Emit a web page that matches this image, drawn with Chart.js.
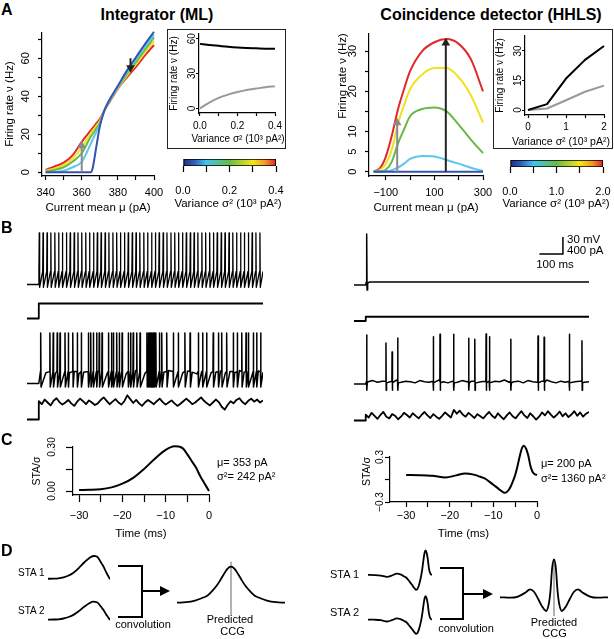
<!DOCTYPE html>
<html>
<head>
<meta charset="utf-8">
<script src="https://cdn.jsdelivr.net/npm/chart.js@4.4.1/dist/chart.umd.min.js"></script>
<style>
  html, body { margin: 0; padding: 0; background: #fff; overflow: hidden; }
  #fig { position: relative; width: 614px; height: 639px; overflow: hidden;
         font-family: 'Liberation Sans', Arial, Helvetica, sans-serif; color: #000; }
  #fig canvas { position: absolute; }
  .t { position: absolute; white-space: nowrap; line-height: 1; }
  .box { position: absolute; border: 1.5px solid #222; box-sizing: border-box; }
  .k { position: absolute; background: #000; }
</style>
</head>
<body>
<div id="fig"></div>
<script>
// fig 1 - integrator (ML) vs coincidence detector (HHLS)

// ---- panel A: firing rate vs mean current, one curve per noise variance ----
const sigmaColors = ['#3553b3', '#5bc7ec', '#69b845', '#efe31f', '#e3262a'];
const colorbarStops = [0, 0.12, 0.25, 0.5, 0.75, 0.88, 1];
const colorbarColors = ['#262a86', '#2f5fb6', '#44c3ee', '#68bb46', '#f3e61d', '#f29a27', '#e1222a'];

const mlCurrent = [340, 345, 350, 355, 360, 365, 366, 368, 370, 372.5, 375, 380, 385, 390, 395, 400];
const mlRateVar0 = [0, 0, 0, 0, 0, 0, 2, 13, 24, 32.5, 37.5, 45.5, 53.5, 60.5, 67.5, 74];
const mlRateVar1 = [0, 0.1, 0.8, 2.6, 5.5, 15, 17, 21, 25, 32.4, 37.2, 45, 52.6, 59.3, 66, 72.5];
const mlRateVar2 = [0.3, 1.2, 2.6, 5.6, 10, 18.7, 20, 23, 26, 32.3, 37, 44.6, 51.8, 58, 64.5, 71];
const mlRateVar3 = [0.8, 2, 3.8, 7.3, 13, 20.5, 21.8, 24.3, 27, 32.4, 36.7, 44.3, 50.9, 56.8, 63, 69];
const mlRateVar4 = [1.2, 3, 5, 9, 16, 22, 23.2, 25.6, 28, 32.5, 36.3, 44, 50, 55.5, 61.5, 67];
const mlArrowUp = [360, 0, 14];     // current, start rate, head rate
const mlArrowDown = [387, 60, 55];

const mlVariance = [0, 0.05, 0.1, 0.15, 0.2, 0.25, 0.3, 0.35, 0.4];
const mlRateAt360 = [0, 5, 9, 11.8, 14, 15.8, 17, 18.2, 19];
const mlRateAt387 = [55.5, 54.6, 53.8, 53, 52.4, 52, 51.7, 51.4, 51.2];

const hhCurrent = [-150, -125, -100, -75, -50, -25, 0, 50, 100, 150, 200, 250, 300];
const hhRateVar0 = [0, 0, 0, 0, 0, 0, 0, 0, 0, 0, 0, 0, 0];
const hhRateVar1 = [0, 0, 0.1, 0.4, 1.0, 2.0, 3.2, 3.9, 3.8, 2.9, 2.0, 1.0, 0.2];
const hhRateVar2 = [0, 0.1, 0.5, 2.5, 7, 10.5, 13.8, 15.6, 16, 15, 11.7, 8, 4.6];
const hhRateVar3 = [0, 0.4, 2, 5.5, 12, 16.5, 20.5, 24.2, 25.8, 25.8, 23.5, 19, 12.2];
const hhRateVar4 = [0.1, 0.8, 3.7, 9, 15.5, 20.5, 25, 30, 32.2, 33, 31.8, 28, 20];
const hhArrowGrey = [-53, 0, 12.2];
const hhArrowBlack = [147, 0, 32];

const hhVariance = [0, 0.5, 1, 1.5, 2];
const hhRateAtMinus53 = [0, 0.8, 5, 9.3, 12.4];
const hhRateAt147 = [0, 3, 16, 25.5, 32.5];

// ---- panel B: voltage and current traces (ms, mV, pA) ----
const stepOnMs = 50;
const traceEndMs = 1000;
const noiseStepMs = 12.5;
const vmStartMs = 60;
const vmStepMs = 20;
const restMv = -65;

const mlThresholdMv = -42;
const mlPeakMv = 26;
const mlAhpMv = -70;
const mlRegularSpikes = [52, 68, 85, 101, 118, 134, 150, 167, 183, 200, 216, 232, 249, 265, 282, 298,
  314, 331, 347, 364, 380, 396, 413, 429, 446, 462, 478, 495, 511, 528, 544, 560, 577, 593, 610, 626,
  642, 659, 675, 692, 708, 724, 741, 757, 774, 790, 806, 823, 839, 856, 872, 888, 905, 921, 938, 954,
  970, 987];
const mlStepT = [0, 50, 50, 1000];
const mlStepI = [0, 0, 353, 353];
const mlNoisySpikes = [58, 97, 111, 128, 140, 161, 175, 194, 213, 230, 260, 270, 281, 295, 306, 318,
  345, 358, 366, 380, 391, 403, 429, 439, 450, 465, 479, 508, 514, 519, 524, 529, 534, 540, 546, 561,
  571, 592, 620, 641, 669, 691, 726, 744, 761, 789, 811, 825, 846, 874, 891, 910, 928, 938, 959, 973, 990];
const mlNoisyPeakMv = 24;
const mlNoisyAhpMv = -71;
const mlVm = [-44, -46, -43, -47, -45, -42, -46, -44, -48, -45,
  -43, -46, -44, -42, -47, -45, -43, -46, -48, -44,
  -42, -45, -47, -43, -46, -44, -45, -42, -47, -44,
  -46, -43, -45, -48, -44, -42, -46, -45, -43, -47,
  -44, -46, -42, -45, -44, -47, -43, -45];
const mlNoisyI = [430, 360, 470, 400, 330, 440, 500, 410, 350, 400,
  460, 380, 320, 420, 490, 430, 360, 450, 400, 340,
  380, 460, 520, 440, 360, 420, 480, 400, 350, 430,
  570, 480, 390, 460, 380, 320, 400, 460, 410, 360,
  430, 490, 410, 350, 400, 450, 380, 320, 370, 430,
  490, 430, 360, 400, 460, 520, 440, 380, 330, 400,
  470, 410, 300, 230, 340, 430, 380, 460, 500, 410,
  360, 440, 490, 420, 470, 400, 450];

const hhStepTraceT = [0, 50, 52, 54, 55.5, 58, 65, 1000];
const hhStepTraceV = [-65, -65, -60, 25, -74, -62, -59.7, -59.7];
const hhStepT = [0, 50, 50, 1000];
const hhStepI = [0, 0, 100, 100];
const hhNoisySpikes = [54, 136, 162, 186, 337, 366, 424, 488, 514, 562, 576, 667, 783, 809, 916, 970];
const hhNoisyPeaks = [21.5, 7.4, -8.5, 16.2, 18.5, 23, 22.7, 15.7, 13.9, 23.3, 18.5, 13.9, 19.7, 17.4, 22.7, 11.5];
const hhVm = [-61, -59, -62, -60, -63, -61, -58, -62, -60, -61,
  -63, -59, -61, -62, -60, -58, -61, -63, -60, -62,
  -59, -61, -60, -63, -61, -59, -62, -60, -61, -58,
  -62, -61, -60, -63, -59, -61, -62, -60, -58, -61,
  -63, -60, -62, -59, -61, -60, -62, -61];
const hhNoisyI = [140, 70, 180, 110, 40, 130, 200, 90, 50, 150,
  110, 30, 90, 180, 130, 70, 170, 110, 50, 130,
  200, 120, 60, 150, 90, 40, 110, 190, 130, 70,
  250, 160, 230, 140, 90, 180, 120, 60, 150, 100,
  50, 130, 200, 110, 60, 170, 90, 30, 120, 190,
  100, 50, 140, 220, 120, 60, 170, 100, 20, 90,
  190, 120, 220, 140, 70, 130, 210, 100, 170, 80,
  140, 220, 110, 190, 90, 160, 200];
const scaleBarAt = [889, -10.3];   // corner of the scale bar (ms, mV)
const scaleBarMs = 100;
const scaleBarMv = 30;

// ---- panel C: spike-triggered averages ----
const mlStaTime = [-30, -27.5, -25, -22.5, -20, -17.5, -15, -12.5, -10, -8, -7, -6, -5, -4, -3, -2, -1, 0];
const mlStaValue = [0.007, 0.008, 0.012, 0.025, 0.05, 0.09, 0.15, 0.22, 0.28, 0.305, 0.303, 0.29, 0.25, 0.205, 0.16, 0.1, 0.05, 0];
const hhStaTime = [-30, -27, -24, -21, -18.5, -16.5, -14.5, -13, -12, -11, -10, -9, -8.5, -8, -7.5,
  -7, -6.5, -6, -5.5, -5, -4.5, -4, -3.5, -3, -2.5, -2, -1.5, -1, -0.5, 0];
const hhStaValue = [0.06, 0.058, 0.05, 0.028, 0.055, 0.081, 0.065, 0.036, 0.015, -0.025, -0.07, -0.115, -0.14, -0.16, -0.178,
  -0.17, -0.14, -0.09, -0.02, 0.06, 0.17, 0.3, 0.41, 0.45, 0.41, 0.32, 0.18, 0.1, 0.07, 0.06];

// ---- panel D: predicted cross-correlograms ----
const mlCcgLag = [-30, -25, -20, -16, -13, -10, -8, -6, -4, -2, 0, 2, 4, 6, 8, 10, 13, 16, 20, 25, 30];
const mlCcg = [0, 0.015, 0.06, 0.13, 0.2, 0.35, 0.47, 0.62, 0.79, 0.94, 1, 0.94, 0.79, 0.62, 0.47, 0.35, 0.2, 0.13, 0.06, 0.015, 0];
const mlCcgMark = [-0.34, 1.14];
const hhCcgLag = [-30, -24, -20, -16, -13.3, -11, -8.7, -6.5, -4.4, -3, -2, -1, 0, 1, 2, 3, 4.4, 6.5, 8.7, 11, 13.3, 16, 20, 24, 30];
const hhCcg = [0, -0.01, 0.02, 0.12, 0.21, 0.14, -0.05, -0.25, -0.36, -0.2, 0.15, 0.78, 1, 0.78, 0.15, -0.2, -0.36, -0.25, -0.05, 0.14, 0.21, 0.12, 0.02, -0.01, 0];
const hhCcgMark = [-0.5, 1.0];

// -------------------------------------------------------------------------

Chart.defaults.font.family = "'Liberation Sans', Arial, Helvetica, sans-serif";
Chart.defaults.font.size = 11;
Chart.defaults.color = '#000';
Chart.defaults.animation = false;
Chart.defaults.responsive = false;
Chart.defaults.devicePixelRatio = 1;
Chart.defaults.events = [];
Chart.defaults.plugins.legend.display = false;
Chart.defaults.plugins.tooltip.enabled = false;
Chart.defaults.elements.point.radius = 0;

const fig = document.getElementById('fig');
const minus = s => String(s).replace('-', '\u2212');
const pts = (xs, ys) => xs.map((x, i) => ({ x, y: ys[i] }));
const smooth = { cubicInterpolationMode: 'monotone' };

function place(l, t, w, h) {
  const c = document.createElement('canvas');
  c.width = Math.round(w);
  c.height = Math.round(h);
  c.style.left = Math.round(l) + 'px';
  c.style.top = Math.round(t) + 'px';
  fig.appendChild(c);
  return c;
}

function text(str, x, y, opts = {}) {
  const d = document.createElement('div');
  d.className = 't';
  d.textContent = str;
  d.style.left = x + 'px';
  d.style.top = y + 'px';
  d.style.fontSize = (opts.size || 11) + 'px';
  if (opts.bold) d.style.fontWeight = 'bold';
  d.style.transform = opts.left ? 'translateY(-50%)' : 'translate(-50%, -50%)';
  fig.appendChild(d);
}

function box(l, t, w, h) {
  const d = document.createElement('div');
  d.className = 'box';
  Object.assign(d.style, { left: l + 'px', top: t + 'px', width: w + 'px', height: h + 'px' });
  fig.appendChild(d);
}

function bar(l, t, w, h) {
  const d = document.createElement('div');
  d.className = 'k';
  Object.assign(d.style, { left: l + 'px', top: t + 'px', width: w + 'px', height: h + 'px' });
  fig.appendChild(d);
}

// bracket joining the two STAs, with the arrow to the CCG
function bracket(x0, x1, y0, y1, yArrow, xTip) {
  bar(x0, y0 - 1, x1 - x0 + 1, 2);
  bar(x1 - 1, y0 - 1, 2, y1 - y0 + 2);
  bar(x0, y1 - 1, x1 - x0 + 1, 2);
  bar(x1, yArrow - 1, xTip - x1 - 8, 2);
  const h = document.createElement('div');
  h.style.cssText = `position:absolute;left:${xTip - 10}px;top:${yArrow - 5}px;width:0;height:0;` +
    'border-left:10px solid #000;border-top:5px solid transparent;border-bottom:5px solid transparent';
  fig.appendChild(h);
}

function axis(o) {
  return {
    type: 'linear', min: o.min, max: o.max,
    border: { display: o.line !== false, color: '#000', width: 1.2 },
    grid: { drawOnChartArea: false, drawTicks: true, tickLength: o.tick, tickColor: '#000', tickWidth: 1.2 },
    ticks: {
      stepSize: o.step, includeBounds: false, autoSkip: false, padding: o.pad,
      font: { size: o.size || 11 }, minRotation: o.rot || 0, maxRotation: o.rot || 0,
      crossAlign: o.rot ? 'center' : 'near', callback: o.fmt,
    },
    title: o.title
      ? { display: true, text: o.title, align: o.titleAlign || 'center', font: { size: o.titleSize || 11.5 },
          padding: { top: o.titlePad || 0, bottom: 0 } }
      : { display: false },
  };
}

// area = plot area on the page, pad = room kept around it for ticks and titles
function framed(area, pad, xAxis, yAxis, datasets, more = {}) {
  const canvas = place(area.l - pad.l, area.t - pad.t,
    area.r - area.l + pad.l + pad.r, area.b - area.t + pad.t + pad.b);
  const showX = xAxis.display !== false;
  const showY = yAxis.display !== false;
  if (showX) xAxis.afterFit = s => { s.height = pad.b; };
  if (showY) yAxis.afterFit = s => { s.width = pad.l; };
  return new Chart(canvas, {
    type: more.type || 'line',
    data: { labels: more.labels, datasets },
    options: {
      indexAxis: more.indexAxis || 'x',
      layout: { padding: { left: showY ? 0 : pad.l, right: pad.r, top: pad.t, bottom: showX ? 0 : pad.b } },
      scales: { x: xAxis, y: yAxis },
    },
  });
}

// value range of a hidden axis, from where the baseline sits and the units per pixel
function range(lo, hi, basePx, baseVal, perPx) {
  return [baseVal - (hi - basePx) * perPx, baseVal + (basePx - lo) * perPx];
}

function trace(area, xr, yr, datasets, plugins) {
  const canvas = place(area.l, area.t, area.r - area.l, area.b - area.t);
  return new Chart(canvas, {
    type: 'line',
    data: { datasets },
    options: {
      layout: { padding: 0 },
      scales: {
        x: { type: 'linear', display: false, min: xr[0], max: xr[1] },
        y: { type: 'linear', display: false, min: yr[0], max: yr[1] },
      },
    },
    plugins: plugins || [],
  });
}

function line(data, color, width, extra) {
  return Object.assign({
    data, borderColor: color, borderWidth: width, pointRadius: 0, fill: false,
    borderJoinStyle: 'round', clip: false,
  }, extra || {});
}

function arrow(spec, color, down) {
  return {
    data: [{ x: spec[0], y: spec[1] }, { x: spec[0], y: spec[2] }],
    borderColor: color, borderWidth: 2, pointStyle: 'triangle', pointRadius: [0, 5],
    pointRotation: down ? 180 : 0, pointBackgroundColor: color, pointBorderColor: color, pointBorderWidth: 0,
  };
}

function colorbar(area, pad, max, fmt) {
  return framed(area, pad,
    axis({ min: 0, max, step: max / 4, tick: 6, pad: 12, line: false, fmt }),
    { type: 'category', display: false },
    [{
      data: [[0, max]], barPercentage: 1, categoryPercentage: 1,
      borderColor: '#000', borderWidth: 1.2, borderSkipped: false,
      backgroundColor(ctx) {
        const ca = ctx.chart.chartArea;
        if (!ca) return colorbarColors[0];
        const g = ctx.chart.ctx.createLinearGradient(ca.left, 0, ca.right, 0);
        colorbarStops.forEach((s, i) => g.addColorStop(s, colorbarColors[i]));
        return g;
      },
    }],
    { type: 'bar', indexAxis: 'y', labels: ['variance'] });
}

// ----- A, integrator -----
text('A', 1, 10, { bold: true, size: 16, left: true });
text('Integrator (ML)', 157, 15, { bold: true, size: 16 });
text('Coincidence detector (HHLS)', 491, 15, { bold: true, size: 16 });

const mlRates = [mlRateVar0, mlRateVar1, mlRateVar2, mlRateVar3, mlRateVar4];
framed({ l: 42, t: 32, r: 154, b: 176 }, { l: 42, t: 12, r: 18, b: 39 },
  axis({ min: 338, max: 400, step: 10, tick: 4, pad: 6, fmt: v => (v % 20 === 0 ? String(v) : ''),
         title: 'Current mean \u03bc (pA)' }),
  axis({ min: -2, max: 73.8, step: 10, tick: 4, pad: 5.5, rot: 90, fmt: v => (v % 20 === 0 ? String(v) : ''),
         title: 'Firing rate \u03bd (Hz)', titlePad: 3 }),
  [arrow(mlArrowUp, '#8a8a8a'), arrow(mlArrowDown, '#222', true)]
    .concat(mlRates.map((r, i) => line(pts(mlCurrent, r), sigmaColors[i], 2, smooth))));

box(167, 29, 119, 120);
framed({ l: 199, t: 34, r: 275, b: 113 }, { l: 31, t: 4, r: 14, b: 32 },
  axis({ min: -0.005, max: 0.4, step: 0.1, tick: 3, pad: 4, size: 10,
         fmt: v => (Math.round(v * 10) % 2 === 0 ? v.toFixed(1) : '') }),
  axis({ min: -4, max: 64, step: 30, tick: 3, pad: -2, size: 10, rot: 90, fmt: v => String(v),
         title: 'Firing rate \u03bd (Hz)', titleSize: 10 }),
  [line(pts(mlVariance, mlRateAt387), '#000', 2, smooth), line(pts(mlVariance, mlRateAt360), '#999', 2, smooth)]);
text('Variance \u03c3\u00b2 (10\u00b3 pA\u00b2)', 238, 139, { size: 10 });

colorbar({ l: 183, t: 159, r: 276, b: 166 }, { l: 22, t: 2, r: 22, b: 45 }, 0.4,
  v => (Math.round(v * 10) % 2 === 0 ? v.toFixed(1) : ''));
text('Variance \u03c3\u00b2 (10\u00b3 pA\u00b2)', 228, 204, { size: 11.5 });

// ----- A, coincidence detector -----
const hhRates = [hhRateVar0, hhRateVar1, hhRateVar2, hhRateVar3, hhRateVar4];
framed({ l: 369, t: 33, r: 483, b: 176 }, { l: 36, t: 12, r: 18, b: 39 },
  axis({ min: -169, max: 300, step: 100, tick: 4, pad: 6,
         fmt: v => (Math.abs(v) % 200 === 100 ? minus(v) : ''), title: 'Current mean \u03bc (pA)' }),
  axis({ min: -1.07, max: 34.48, step: 5, tick: 4, pad: 5.5, rot: 90,
         fmt: v => ([0, 5, 10, 20, 30].includes(v) ? String(v) : ''),
         title: 'Firing rate \u03bd (Hz)', titleAlign: 'end', titlePad: 3 }),
  [arrow(hhArrowBlack, '#222'), arrow(hhArrowGrey, '#8a8a8a')]
    .concat(hhRates.map((r, i) => line(pts(hhCurrent, r), sigmaColors[i], 2, smooth))));

box(493, 29, 120, 120);
framed({ l: 525, t: 36, r: 604, b: 115 }, { l: 31, t: 5, r: 14, b: 32 },
  axis({ min: -0.08, max: 2, step: 0.5, tick: 3, pad: 3, size: 10,
         fmt: v => (Number.isInteger(v) ? String(v) : '') }),
  axis({ min: -2.5, max: 37.6, step: 15, tick: 3, pad: -2, size: 10, rot: 90, fmt: v => String(v),
         title: 'Firing rate \u03bd (Hz)', titleSize: 10 }),
  [line(pts(hhVariance, hhRateAt147), '#000', 2), line(pts(hhVariance, hhRateAtMinus53), '#999', 2)]);
text('Variance \u03c3\u00b2 (10\u00b3 pA\u00b2)', 561, 141, { size: 10.5 });

colorbar({ l: 510, t: 160, r: 603, b: 167 }, { l: 22, t: 2, r: 22, b: 44 }, 2,
  v => (Number.isInteger(v) ? v.toFixed(1) : ''));
text('Variance \u03c3\u00b2 (10\u00b3 pA\u00b2)', 556, 204, { size: 11.5 });

// ----- B, traces -----
text('B', 1, 228, { bold: true, size: 16, left: true });
const mvPerPx = 30 / 17;
const paPerPx = 400 / 17;
const timeRange = [0, traceEndMs];

function regularTrace() {
  const p = [{ x: 0, y: restMv }, { x: stepOnMs, y: restMv }];
  mlRegularSpikes.forEach(t => {
    p.push({ x: t - 1.5, y: mlThresholdMv }, { x: t, y: mlPeakMv }, { x: t + 1.5, y: mlAhpMv });
  });
  p.push({ x: traceEndMs, y: mlThresholdMv });
  return p;
}

function noisyTrace(spikes, shape, vm) {
  const p = [{ x: 0, y: restMv }, { x: stepOnMs, y: restMv }];
  const near = t => spikes.some(s => t > s - 3 && t < s + 5);
  vm.forEach((v, i) => {
    const t = vmStartMs + i * vmStepMs;
    if (!near(t)) p.push({ x: t, y: v });
  });
  spikes.forEach((s, i) => shape(s, i).forEach(q => p.push(q)));
  return p.sort((a, b) => a.x - b.x);
}

function noisyCurrent(vals) {
  const p = [{ x: 0, y: 0 }, { x: stepOnMs, y: 0 }];
  vals.forEach((v, i) => p.push({ x: stepOnMs + i * noiseStepMs, y: v }));
  return p;
}

const mlShape = s => [{ x: s - 1, y: mlThresholdMv - 2 }, { x: s, y: mlNoisyPeakMv }, { x: s + 1.5, y: mlNoisyAhpMv }];
const hhShape = (s, i) => [{ x: s - 0.7, y: -60 }, { x: s, y: hhNoisyPeaks[i] }, { x: s + 1, y: -76 }, { x: s + 2.5, y: -63 }];

trace({ l: 27, t: 226, r: 263, b: 292 }, timeRange, range(226, 292, 284.5, restMv, mvPerPx),
  [line(regularTrace(), '#000', 1.3)]);
trace({ l: 27, t: 297, r: 263, b: 324 }, timeRange, range(297, 324, 318.5, 0, paPerPx),
  [line(pts(mlStepT, mlStepI), '#000', 1.8)]);
trace({ l: 27, t: 328, r: 263, b: 392 }, timeRange, range(328, 392, 383.5, restMv, mvPerPx),
  [line(noisyTrace(mlNoisySpikes, mlShape, mlVm), '#000', 1.5)]);
trace({ l: 27, t: 394, r: 263, b: 428 }, timeRange, range(394, 428, 419.5, 0, paPerPx),
  [line(noisyCurrent(mlNoisyI), '#000', 1.8)]);

const scaleBarPlugin = {
  id: 'scaleBar',
  afterDraw(chart) {
    const { ctx, scales: { x, y } } = chart;
    const x1 = x.getPixelForValue(scaleBarAt[0]);
    const x0 = x.getPixelForValue(scaleBarAt[0] - scaleBarMs);
    const y0 = y.getPixelForValue(scaleBarAt[1]);
    const y1 = y.getPixelForValue(scaleBarAt[1] + scaleBarMv);
    ctx.save();
    ctx.strokeStyle = '#000';
    ctx.lineWidth = 1.5;
    ctx.beginPath();
    ctx.moveTo(x0, y0);
    ctx.lineTo(x1, y0);
    ctx.lineTo(x1, y1);
    ctx.stroke();
    ctx.restore();
  },
};

trace({ l: 354, t: 226, r: 589, b: 294 }, timeRange, range(226, 294, 285, restMv, mvPerPx),
  [line(pts(hhStepTraceT, hhStepTraceV), '#000', 1.5)], [scaleBarPlugin]);
trace({ l: 354, t: 298, r: 589, b: 326 }, timeRange, range(298, 326, 321, 0, paPerPx),
  [line(pts(hhStepT, hhStepI), '#000', 1.8)]);
trace({ l: 354, t: 328, r: 589, b: 398 }, timeRange, range(328, 398, 384, restMv, mvPerPx),
  [line(noisyTrace(hhNoisySpikes, hhShape, hhVm), '#000', 1.5)]);
trace({ l: 354, t: 400, r: 589, b: 428 }, timeRange, range(400, 428, 420.5, 0, paPerPx),
  [line(noisyCurrent(hhNoisyI), '#000', 1.8)]);

text('30 mV', 567, 240, { size: 11.5, left: true });
text('400 pA', 567, 251, { size: 11.5, left: true });
text('100 ms', 555, 265, { size: 11.5 });

// ----- C, STAs -----
text('C', 1, 440, { bold: true, size: 16, left: true });
framed({ l: 73, t: 447, r: 209, b: 495 }, { l: 42, t: 11, r: 14, b: 46 },
  axis({ min: -31.4, max: 0, step: 5, tick: 7, pad: 7.4, fmt: v => (v % 10 === 0 ? minus(v) : ''),
         title: 'Time (ms)' }),
  axis({ min: -0.027, max: 0.3, step: 0.15, tick: 7, pad: 3.9, size: 10, rot: 90,
         fmt: v => (Math.abs(v - 0.15) < 1e-6 ? '' : v.toFixed(2)), title: 'STA/\u03c3', titleSize: 10.5 }),
  [line(pts(mlStaTime, mlStaValue), '#000', 2, smooth)]);
text('\u03bc= 353 pA', 217, 462, { left: true });
text('\u03c3\u00b2= 242 pA\u00b2', 217, 476, { left: true });

framed({ l: 390, t: 457, r: 537, b: 502 }, { l: 29, t: 14, r: 12, b: 39 },
  axis({ min: -33.7, max: 0, step: 5, tick: 5, pad: 2.7, fmt: v => (v % 10 === 0 ? minus(v) : ''),
         title: 'Time (ms)' }),
  axis({ min: -0.3, max: 0.3, step: 0.3, tick: 5, pad: -4.9, size: 10, rot: 90,
         fmt: v => (Math.abs(v) < 1e-6 ? '' : minus(v.toFixed(1))),
         title: 'STA/\u03c3', titleSize: 10.5, titleAlign: 'end' }),
  [line(pts(hhStaTime, hhStaValue), '#000', 2, smooth)]);
text('\u03bc= 200 pA', 541, 463, { left: true });
text('\u03c3\u00b2= 1360 pA\u00b2', 541, 478, { left: true });

// ----- D, STA convolution -----
text('D', 1, 551, { bold: true, size: 16, left: true });
const staRange = [-30, 0];
const lagRange = [-30, 30];

trace({ l: 48, t: 553, r: 110, b: 583 }, staRange, range(553, 583, 579.3, 0, 1 / 76.4),
  [line(pts(mlStaTime, mlStaValue), '#000', 1.8, smooth)]);
trace({ l: 48, t: 596, r: 110, b: 628 }, staRange, range(596, 628, 620, 0, 1 / 60),
  [line(pts(mlStaTime, mlStaValue), '#000', 1.8, smooth)]);
trace({ l: 177, t: 556, r: 285, b: 618 }, lagRange, range(556, 618, 602.7, 0, 1 / 36),
  [line(pts(mlCcgLag, mlCcg), '#000', 1.8, smooth), line(pts([0, 0], mlCcgMark), '#999', 1.5)]);
bracket(118, 142, 566, 617, 591, 170);
text('STA 1', 18, 573, { size: 10, left: true });
text('STA 2', 18, 611, { size: 10, left: true });
text('convolution', 143, 624);
text('Predicted', 230, 619);
text('CCG', 232.5, 631);

trace({ l: 368, t: 545, r: 432, b: 596 }, staRange, range(545, 596, 578.7, 0, 1 / 62.9),
  [line(pts(hhStaTime, hhStaValue), '#000', 1.8, smooth)]);
trace({ l: 368, t: 590, r: 432, b: 639 }, staRange, range(590, 639, 623.2, 0, 1 / 60.2),
  [line(pts(hhStaTime, hhStaValue), '#000', 1.8, smooth)]);
trace({ l: 500, t: 550, r: 608, b: 620 }, lagRange, range(550, 620, 597.3, 0, 1 / 38),
  [line(pts(hhCcgLag, hhCcg), '#000', 1.8, smooth), line(pts([0, 0], hhCcgMark), '#999', 1.5)]);
bracket(440, 463, 568, 619, 594, 493);
text('STA 1', 330, 574, { left: true });
text('STA 2', 330, 612, { left: true });
text('convolution', 466, 628);
text('Predicted', 554, 621.5);
text('CCG', 554.5, 633);
</script>
</body>
</html>
